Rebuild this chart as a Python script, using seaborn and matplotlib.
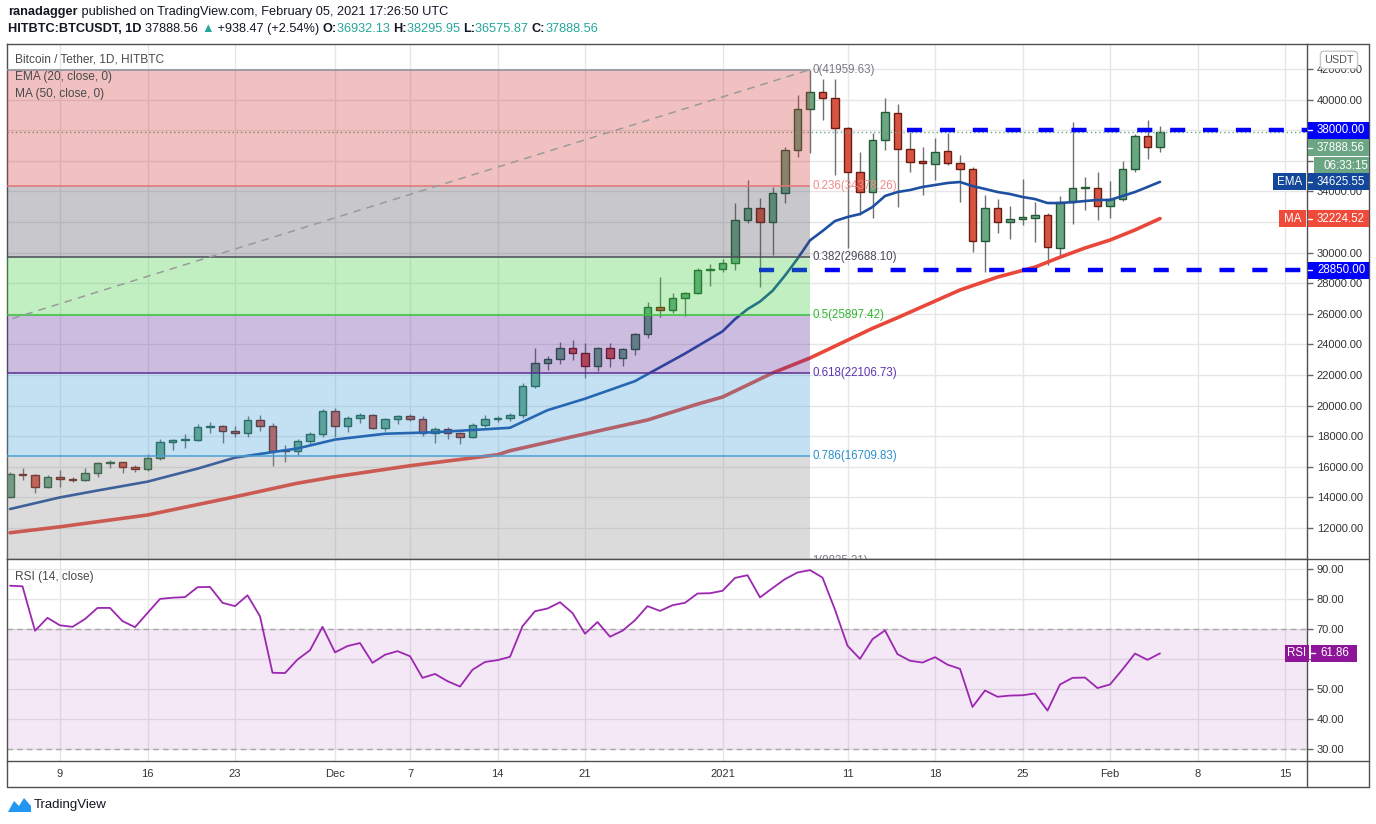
import matplotlib
matplotlib.use("Agg")
import matplotlib.dates as mdates
import matplotlib.pyplot as plt
import numpy as np
import pandas as pd
import seaborn as sns
from matplotlib.lines import Line2D
from matplotlib.patches import Polygon, Rectangle

# ---- data ----
first_day = "2020-11-05"
opens = [14030, 15530, 15470, 14680, 15330, 15200, 15140, 15600, 16250, 16300,
         15990, 15860, 16575, 17620, 17750, 17780, 18600, 18665, 18340, 18210,
         19060, 18650, 17100, 17030, 17690, 18140, 19650, 18665, 19190, 19385,
         18535, 19125, 19320, 19125, 18210, 18470, 18210, 17950, 18730, 19125,
         19190, 19385, 21280, 22780, 23045, 23765, 23440, 22590, 23765, 23110,
         23700, 24680, 26445, 26250, 27030, 27360, 28860, 28950, 29320, 32130,
         32915, 31980, 33900, 36705, 39385, 40500, 40100, 38140, 35270, 33960,
         37360, 39125, 36770, 35990, 35790, 36640, 35860, 35460, 30760, 32915,
         32000, 32200, 32260, 32457, 30300, 33310, 34220, 34220, 33040, 33500,
         35460, 37620, 36932.13]
highs = [15660, 15920, 15560, 15460, 15790, 15330, 15920, 16340, 16450, 16330,
         16120, 16840, 17820, 17820, 18140, 18800, 18930, 18700, 18665, 19320,
         19385, 18860, 17420, 17820, 18275, 19780, 19845, 19320, 19520, 19450,
         19190, 19385, 19450, 19320, 18600, 18600, 18275, 18860, 19385, 19320,
         19520, 21470, 23765, 23240, 24160, 24290, 24090, 23830, 24090, 23765,
         24745, 26770, 28410, 27360, 27400, 28990, 29250, 29580, 33240, 34745,
         33570, 34290, 36900, 40300, 41960, 41350, 41350, 38200, 36575, 37800,
         40100, 39710, 37880, 36900, 37490, 37800, 36380, 35600, 33760, 33500,
         33040, 34810, 33310, 32590, 33700, 38540, 34940, 35270, 34680, 35990,
         37750, 38670, 38295.95]
lows = [13960, 15140, 14290, 14610, 14680, 15010, 15080, 15330, 15920, 15600,
        15660, 15700, 16450, 17100, 17230, 17690, 18210, 17555, 17950, 17950,
        18340, 16050, 16310, 16770, 17500, 17950, 17950, 18275, 18860, 18470,
        18340, 18800, 18990, 18010, 17555, 17820, 17490, 17900, 18600, 18930,
        18990, 19190, 21150, 22330, 22720, 22980, 21800, 22260, 22520, 22590,
        23310, 24420, 25790, 26050, 25860, 27290, 27810, 28700, 28860, 31935,
        27750, 29840, 33240, 36250, 36510, 38670, 35070, 30300, 32457, 32260,
        36700, 32980, 35270, 33760, 34745, 35700, 33310, 30040, 28730, 31280,
        30890, 31800, 30690, 29190, 29710, 31870, 32780, 32130, 32260, 33370,
        35270, 36120, 36575.87]
closes = [15530, 15470, 14680, 15330, 15200, 15140, 15600, 16250, 16300, 15990,
          15860, 16575, 17620, 17750, 17780, 18600, 18665, 18340, 18210, 19060,
          18650, 17030, 17030, 17690, 18140, 19650, 18665, 19190, 19385, 18535,
          19125, 19320, 19125, 18210, 18470, 18210, 17950, 18730, 19125, 19190,
          19385, 21280, 22780, 23045, 23765, 23440, 22590, 23765, 23110, 23700,
          24680, 26445, 26250, 27030, 27360, 28860, 28950, 29320, 32130, 32915,
          31980, 33900, 36705, 39385, 40500, 40100, 38140, 35270, 33960, 37360,
          39190, 36770, 35920, 35860, 36575, 35860, 35460, 30760, 32915, 32000,
          32200, 32300, 32457, 30365, 33310, 34220, 34300, 33040, 33500, 35460,
          37620, 36932, 37888.56]
rsi = [84.4, 84.2, 69.4, 73.7, 71.2, 70.7, 73.3, 77.0, 77.0, 72.6,
       70.6, 75.3, 80.0, 80.4, 80.6, 83.9, 84.0, 78.7, 77.6, 81.2,
       74.2, 55.4, 55.3, 59.8, 62.9, 70.7, 62.2, 64.3, 65.3, 58.7,
       61.4, 62.6, 60.9, 53.7, 55.0, 52.6, 50.8, 56.4, 59.0, 59.6,
       60.7, 70.9, 75.9, 76.8, 78.9, 75.3, 68.4, 72.3, 67.4, 69.4,
       72.9, 77.6, 76.0, 77.9, 78.7, 81.8, 81.9, 82.7, 87.0, 87.9,
       80.5, 83.6, 86.6, 88.8, 89.6, 87.1, 76.4, 64.4, 60.0, 66.6,
       69.5, 61.6, 59.4, 58.8, 60.6, 58.1, 56.7, 44.0, 49.5, 47.4,
       47.8, 47.9, 48.5, 42.8, 51.5, 53.7, 53.8, 50.3, 51.5, 56.5,
       61.8, 59.7, 61.86]

ema_dates = ["2020-11-05", "2020-11-09", "2020-11-12", "2020-11-16", "2020-11-20",
             "2020-11-23", "2020-11-28", "2020-12-01", "2020-12-05", "2020-12-09",
             "2020-12-15", "2020-12-18", "2020-12-21", "2020-12-25", "2020-12-29",
             "2021-01-01", "2021-01-02", "2021-01-03", "2021-01-04", "2021-01-05",
             "2021-01-06", "2021-01-07", "2021-01-08", "2021-01-09", "2021-01-10",
             "2021-01-11", "2021-01-12", "2021-01-13", "2021-01-14", "2021-01-15",
             "2021-01-16", "2021-01-17", "2021-01-18", "2021-01-19", "2021-01-20",
             "2021-01-21", "2021-01-22", "2021-01-23", "2021-01-24", "2021-01-25",
             "2021-01-26", "2021-01-27", "2021-01-28", "2021-01-29", "2021-01-30",
             "2021-01-31", "2021-02-01", "2021-02-02", "2021-02-03", "2021-02-04",
             "2021-02-05"]
ema_values = [13240, 14000, 14450, 15030, 15880, 16600, 17200, 17780, 18160, 18260,
              18550, 19700, 20450, 21600, 23400, 24850, 25650, 26300, 26800, 27500,
              28500, 29600, 30800, 31410, 32065, 32327, 32520, 32980, 33700, 33960,
              34090, 34290, 34418, 34550, 34614, 34350, 34160, 33960, 33830, 33634,
              33500, 33240, 33240, 33300, 33370, 33440, 33440, 33700, 33960, 34290,
              34625.55]
ma_dates = ["2020-11-05", "2020-11-09", "2020-11-16", "2020-11-23", "2020-11-28",
            "2020-12-01", "2020-12-07", "2020-12-14", "2020-12-15", "2020-12-21",
            "2020-12-26", "2020-12-30", "2021-01-01", "2021-01-05", "2021-01-08",
            "2021-01-13", "2021-01-15", "2021-01-20", "2021-01-23", "2021-01-26",
            "2021-01-28", "2021-01-30", "2021-02-01", "2021-02-03", "2021-02-05"]
ma_values = [11690, 12080, 12850, 14040, 14930, 15350, 16070, 16790, 17050, 18150,
             19060, 20100, 20560, 22130, 23110, 25050, 25745, 27555, 28400, 29050,
             29700, 30300, 30820, 31480, 32224.52]

fib_levels = ["0", "0.236", "0.382", "0.5", "0.618", "0.786", "1"]
fib_prices = [41959.63, 34378.26, 29688.10, 25897.42, 22106.73, 16709.83, 9835.21]
fib_start, fib_end = "2020-09-04", "2021-01-08"
fib_line_colors = ["#8a8d96", "#e57373", "#4b4b57", "#3cc23c", "#5c2d91", "#4aa0d5", "#8a8d96"]
fib_text_colors = ["#787b86", "#f08a8a", "#4b4b57", "#2eb82e", "#5e35b1", "#2a8fcf", "#787b86"]
fib_fill_colors = ["#d23232", "#484858", "#34cd34", "#582398", "#3a9eda", "#8a8a8a"]

resistance, resistance_start = 38000, "2021-01-15 19:00"
support, support_start = 28850, "2021-01-03 22:00"
last_close = 37888.56
countdown = "06:33:15"

tick_dates = ["2020-11-09", "2020-11-16", "2020-11-23", "2020-12-01", "2020-12-07",
              "2020-12-14", "2020-12-21", "2021-01-01", "2021-01-11", "2021-01-18",
              "2021-01-25", "2021-02-01", "2021-02-08", "2021-02-15"]
tick_labels = ["9", "16", "23", "Dec", "7", "14", "21", "2021", "11", "18", "25", "Feb", "8", "15"]

# ---- figure ----
W, H = 1376, 824
sns.set_theme(style="white")
plt.rcParams["font.family"] = ["Liberation Sans", "DejaVu Sans"]
fig = plt.figure(figsize=(W / 100, H / 100), dpi=100)
fig.patch.set_facecolor("white")


def fx(x):
    return x / W


def fy(y):
    return 1 - y / H


ax = fig.add_axes([fx(7), fy(559), (1307 - 7) / W, (559 - 44) / H])
ax2 = fig.add_axes([fx(7), fy(761), (1307 - 7) / W, (761 - 559) / H], sharex=ax)

days = pd.date_range(first_day, periods=len(closes))
xn = mdates.date2num(days)
x_left = xn[0] - 0.24
x_right = x_left + 104
o, h, l, c = map(np.array, (opens, highs, lows, closes))

grid_c = "#e6e6e6"
spine_c = "#505050"
for a in (ax, ax2):
    a.set_facecolor("white")
    a.set_xlim(x_left, x_right)
    a.set_xticks(mdates.date2num(pd.to_datetime(tick_dates)))
    a.grid(True, color=grid_c, lw=1)
    a.set_axisbelow(True)
    a.yaxis.tick_right()
    a.tick_params(axis="y", length=4, width=1, color="#666", labelsize=8, labelcolor="#333", pad=3)
    for s in a.spines.values():
        s.set_color(spine_c)
        s.set_linewidth(1)

ax.tick_params(axis="x", length=0, labelbottom=False)
ax2.set_xticklabels(tick_labels)
ax2.tick_params(axis="x", length=3, color="#666", labelsize=8, labelcolor="#333", pad=3)

# ---- main price panel ----
ax.set_ylim(9974, 43634)
yt = np.arange(12000, 42001, 2000)
covered = {32000, 36000, 38000}   # hidden under the price tags
ax.set_yticks(yt)
ax.set_yticklabels(["" if v in covered else f"{v:.2f}" for v in yt])

up = c >= o
body_lo = np.minimum(o, c)
body_h = np.maximum(np.abs(c - o), 45)
wick = "#707070"
ax.vlines(xn, l, h, color=wick, lw=1, zorder=2)
ax.bar(xn[up], body_h[up], bottom=body_lo[up], width=0.64, color="#6ba583",
       edgecolor="#225a36", linewidth=1, zorder=2.5)
ax.bar(xn[~up], body_h[~up], bottom=body_lo[~up], width=0.64, color="#d65442",
       edgecolor="#6b1d12", linewidth=1, zorder=2.5)

ema_x = mdates.date2num(pd.to_datetime(ema_dates))
ma_x = mdates.date2num(pd.to_datetime(ma_dates))
sns.lineplot(x=ema_x, y=ema_values, color="#1e50a2", lw=1.9, ax=ax, zorder=3)
sns.lineplot(x=ma_x, y=ma_values, color="#e8473a", lw=2.6, ax=ax, zorder=3)
ax.axhline(last_close, color="#6ba583", ls=(0, (1, 2)), lw=1, zorder=3)

res_x = mdates.date2num(pd.Timestamp(resistance_start))
sup_x = mdates.date2num(pd.Timestamp(support_start))
dash = dict(color="#0000ff", lw=3.2, linestyles=(0, (3.4, 4.0)), zorder=3.5, capstyle="butt")
ax.hlines(resistance, res_x, x_right, **dash)
ax.hlines(support, sup_x, x_right, **dash)

# fibonacci retracement
fs = mdates.date2num(pd.Timestamp(fib_start))
fe = mdates.date2num(pd.Timestamp(fib_end))
for i, col in enumerate(fib_fill_colors):
    ax.fill_between([fs, fe], fib_prices[i + 1], fib_prices[i], color=col, alpha=0.3, lw=0, zorder=4)
for lev, p, lc, tc in zip(fib_levels, fib_prices, fib_line_colors, fib_text_colors):
    ax.hlines(p, fs, fe, color=lc, lw=1.1, zorder=4.5)
    ax.text(fe + 0.2, p, f"{lev}({p:.2f})", color=tc, fontsize=8.3, va="center", ha="left",
            zorder=6, clip_on=True)
ax.plot([fs, fe], [fib_prices[-1], fib_prices[0]], color="#9a9a9a", lw=1.1,
        ls=(0, (5, 4)), zorder=4.6)
ax.set_xlabel("")
ax.set_ylabel("")

# ---- RSI panel ----
ax2.set_ylim(26, 93.3)
rt = np.arange(30, 91, 10)
ax2.set_yticks(rt)
ax2.set_yticklabels(["" if v == 60 else f"{v:.2f}" for v in rt])
ax2.axhspan(30, 70, color="#9c27b0", alpha=0.1, lw=0, zorder=1)
for lvl in (30, 70):
    ax2.axhline(lvl, color="#a8a8a8", lw=1, ls=(0, (4, 3)), zorder=1.5)
sns.lineplot(x=xn, y=rsi, color="#9c27b0", lw=1.3, ax=ax2, zorder=3)
ax2.set_xlabel("")
ax2.set_ylabel("")


# ---- frame around axis area ----
def fline(x0, y0, x1, y1, color=spine_c, lw=1):
    fig.add_artist(Line2D([fx(x0), fx(x1)], [fy(y0), fy(y1)], color=color, lw=lw,
                          transform=fig.transFigure))


fline(1307, 44, 1369, 44)
fline(1369, 44, 1369, 787)
fline(1307, 559, 1369, 559)
fline(1307, 761, 1369, 761)
fline(7, 787, 1369, 787)
fline(7, 761, 7, 787)
fline(1307, 761, 1307, 787)


# ---- price tags ----
def ypix(a, value):
    yd = a.transData.transform((x_left, value))[1]
    return H - yd


def box(yc, text, face, x0, x1, hgt=17, center=False, tick=True):
    fig.add_artist(Rectangle((fx(x0), fy(yc + hgt / 2)), (x1 - x0) / W, hgt / H,
                             transform=fig.transFigure, facecolor=face, edgecolor="none", zorder=5))
    if center:
        fig.text(fx((x0 + x1) / 2), fy(yc), text, color="white", fontsize=8.3,
                 va="center", ha="center", zorder=6)
    else:
        fig.text(fx(x0 + 9), fy(yc), text, color="white", fontsize=8.3,
                 va="center", ha="left", zorder=6)
    if tick:
        fig.add_artist(Line2D([fx(x0), fx(x0 + 4)], [fy(yc), fy(yc)], color="white", lw=1,
                              transform=fig.transFigure, zorder=6))


y_res = ypix(ax, resistance)
box(y_res, "38000.00", "#0000ff", 1308, 1369)
box(y_res + 17.5, "37888.56", "#6ba583", 1308, 1369)
box(y_res + 35.5, countdown, "#6ba583", 1314, 1369, tick=False)
y_ema = ypix(ax, ema_values[-1])
box(y_ema, "34625.55", "#12479c", 1308, 1369)
box(y_ema, "EMA", "#12479c", 1273, 1306, center=True, tick=False)
y_ma = ypix(ax, ma_values[-1])
box(y_ma, "32224.52", "#ef4a3a", 1308, 1369)
box(y_ma, "MA", "#ef4a3a", 1279, 1306, center=True, tick=False)
box(ypix(ax, support), "28850.00", "#0000ff", 1308, 1369)
y_rsi = ypix(ax2, rsi[-1])
box(y_rsi, "61.86", "#8e1599", 1311, 1357)
box(y_rsi, "RSI", "#8e1599", 1285, 1309, center=True, tick=False)

fig.text(fx(1339), fy(60), "USDT", fontsize=7.8, color="#555", ha="center", va="center", zorder=7,
         bbox=dict(boxstyle="round,pad=0.35", fc="white", ec="#c8c8c8", lw=1))

# ---- texts ----
fig.text(fx(15), fy(60), "Bitcoin / Tether, 1D, HITBTC", fontsize=8.6, color="#4a4a4a", va="center")
fig.text(fx(15), fy(77), "EMA (20, close, 0)", fontsize=8.6, color="#4a4a4a", va="center", zorder=7)
fig.text(fx(15), fy(94), "MA (50, close, 0)", fontsize=8.6, color="#4a4a4a", va="center", zorder=7)
fig.text(fx(15), fy(577), "RSI (14, close)", fontsize=8.6, color="#4a4a4a", va="center")

renderer = fig.canvas.get_renderer()


def runs(y, pieces, x=8):
    for text, weight, color in pieces:
        t = fig.text(fx(x), fy(y), text, fontsize=9.2, fontweight=weight, color=color,
                     va="center", ha="left")
        x += t.get_window_extent(renderer=renderer).width


dark, teal = "#131722", "#26a69a"
runs(12, [("ranadagger", "bold", dark),
          (" published on TradingView.com, February 05, 2021 17:26:50 UTC", "normal", dark)])
runs(29, [("HITBTC:BTCUSDT, 1D ", "bold", dark), ("37888.56 ", "normal", dark),
          ("▲", "normal", teal), (" +938.47 (+2.54%) ", "normal", dark),
          ("O:", "bold", dark), ("36932.13 ", "normal", teal),
          ("H:", "bold", dark), ("38295.95 ", "normal", teal),
          ("L:", "bold", dark), ("36575.87 ", "normal", teal),
          ("C:", "bold", dark), ("37888.56", "normal", teal)])

# TradingView logo
logo = [(8, 812), (14, 801), (19, 806), (24, 798), (31, 806), (31, 812)]
fig.add_artist(Polygon([(fx(a), fy(b)) for a, b in logo], closed=True, transform=fig.transFigure,
                       facecolor="#2196f3", edgecolor="none"))
fig.text(fx(34), fy(805), "TradingView", fontsize=9.5, color=dark, va="center")

fig.savefig("out.png", dpi=100, facecolor="white")
plt.close(fig)
